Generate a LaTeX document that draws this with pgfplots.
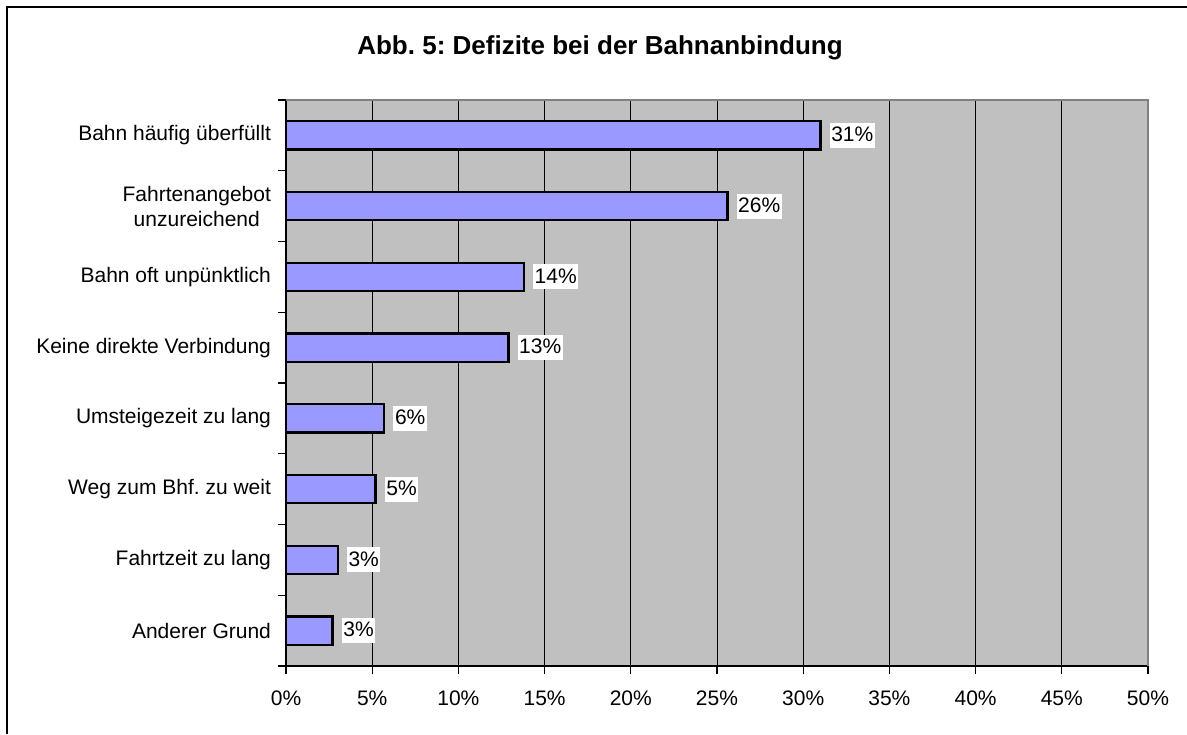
\documentclass[border=0pt]{standalone}
\usepackage{fontspec}
\setmainfont{Liberation Sans}
\usepackage{pgfplots}
\usepackage{pgfplotstable}
\pgfplotsset{compat=1.18}
\frenchspacing
\definecolor{barfill}{RGB}{153,153,255}
\definecolor{plotbg}{RGB}{192,192,192}
\definecolor{plotedge}{RGB}{128,128,128}

% y = category position (0 = bottom), x = share in percent, lab = printed value
\pgfplotstableread{
y x lab
7 31.0 31
6 25.6 26
5 13.8 14
4 12.9 13
3 5.7 6
2 5.2 5
1 3.0 3
0 2.7 3
}\deficits

\begin{document}
\begin{tikzpicture}
\useasboundingbox (0,0) rectangle (593.5pt,367pt);
\draw[line width=1pt] (3.5pt,0) -- (3.5pt,363.5pt) -- (593.5pt,363.5pt);
\node[font=\fontsize{13}{15}\selectfont\bfseries, anchor=base] at (300pt,339.5pt)
    {Abb. 5: Defizite bei der Bahnanbindung};
\begin{axis}[
    at={(143pt,34pt)}, anchor=south west,
    scale only axis, width=431pt, height=283pt,
    clip=false,
    xbar, bar width=0.4,
    xmin=0, xmax=50, ymin=-0.5, ymax=7.5,
    axis x line*=bottom, axis y line*=left,
    axis line style={line width=0.8pt},
    axis background/.style={fill=plotbg},
    tick align=outside, major tick length=4pt,
    tick style={black, line width=0.6pt},
    xtick={0,5,...,50},
    xticklabels={0\%,5\%,10\%,15\%,20\%,25\%,30\%,35\%,40\%,45\%,50\%},
    xmajorgrids, major grid style={black, line width=0.5pt},
    ytick={-0.5,0.5,...,7.5}, yticklabels={},
    extra y ticks={0,1,2,3,4,5,6,7},
    extra y tick labels={Anderer Grund, Fahrtzeit zu lang, Weg zum Bhf. zu weit,
        Umsteigezeit zu lang, Keine direkte Verbindung, Bahn oft unpünktlich,
        {Fahrtenangebot\\unzureichend}, Bahn häufig überfüllt},
    extra y tick style={tick style={draw=none}, yticklabel style={align=center}},
    tick label style={font=\fontsize{10.5}{12.5}\selectfont},
    xticklabel style={yshift=-5pt},
    point meta=explicit symbolic,
    nodes near coords={\pgfplotspointmeta\%},
    nodes near coords style={anchor=west, xshift=4pt, fill=white, text=black,
        inner xsep=0.8pt, inner ysep=0.9pt, text height=8.5pt, text depth=2.3pt,
        font=\fontsize{10.5}{12.5}\selectfont},
]
\addplot[fill=barfill, draw=black, line width=1.2pt] table[x=x, y=y, meta=lab] {\deficits};
\draw[plotedge, line width=0.8pt] (rel axis cs:0,1) -- (rel axis cs:1,1) -- (rel axis cs:1,0);
\end{axis}
\end{tikzpicture}
\end{document}
